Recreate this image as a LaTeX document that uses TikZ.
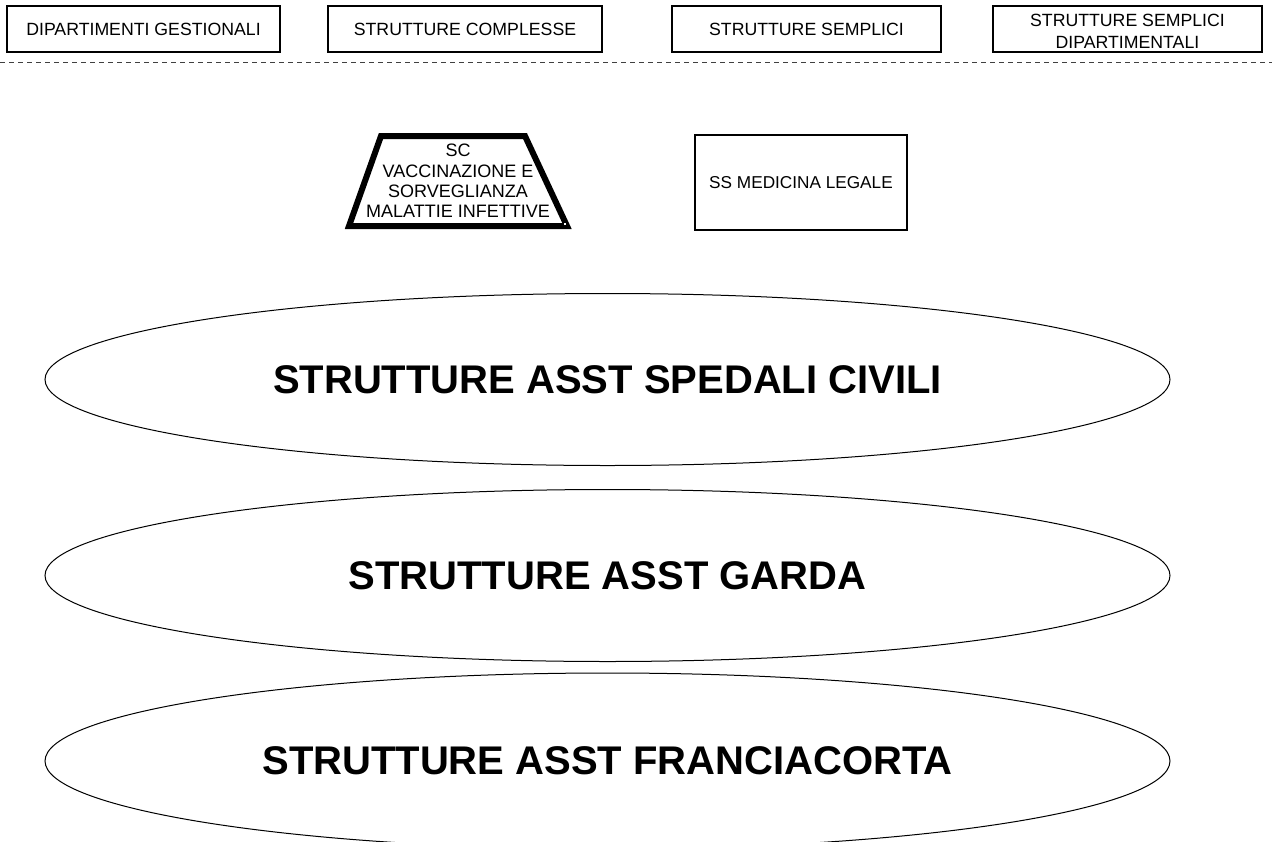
\documentclass[tikz,border=0pt]{standalone}
\usepackage{fontspec}
\setmainfont{Liberation Sans}
\usetikzlibrary{shapes.geometric}
\begin{document}
\begin{tikzpicture}[x=1pt,y=-1pt,
  topbox/.style={draw, line width=1.8pt, inner sep=0pt, minimum height=46pt, font=\fontsize{17.7}{21}\selectfont},
  smalltxt/.style={font=\fontsize{18}{20.2}\selectfont, inner sep=0pt, align=center},
  ell/.style={draw, fill=white, line width=1pt, ellipse, inner sep=0pt, minimum width=1125pt, minimum height=172pt, font=\fontsize{40}{48}\selectfont\bfseries}]
\useasboundingbox (0,0) rectangle (1272,841);
\clip (0,0) rectangle (1272,841);

% top legend boxes
\node[topbox, minimum width=273pt] (b1) at (143.5,29) {DIPARTIMENTI GESTIONALI};
\node[topbox, minimum width=274pt] (b2) at (465,29) {STRUTTURE COMPLESSE};
\node[topbox, minimum width=269pt] (b3) at (806.5,29) {STRUTTURE SEMPLICI};
\node[topbox, minimum width=269pt] (b4) at (1127.5,29) {};
\node[font=\fontsize{17.7}{21.5}\selectfont, inner sep=0pt, align=center] (t4) at (1127.5,31.5) {STRUTTURE SEMPLICI\\DIPARTIMENTALI};

% dashed separator
\coordinate (dl) at (0,62);
\coordinate (dr) at (1272,62);
\draw[dash pattern=on 5pt off 4pt, line width=0.8pt, black!75] (dl) -- (dr);

% trapezoid
\draw[line width=6pt, miter limit=10] (381,136) -- (525,136) -- (567,226) -- (349,226) -- cycle;
\fill[white] (564,223) rectangle (566,225);
\node[smalltxt] (sc) at (458,181) {SC\\VACCINAZIONE E\\SORVEGLIANZA\\MALATTIE INFETTIVE};

% SS box
\node[draw, line width=1.5pt, minimum width=212pt, minimum height=95pt, inner sep=0pt, font=\fontsize{17.2}{20}\selectfont] (ss) at (801,182.5) {SS MEDICINA LEGALE};

% ellipses
\node[ell] (e1) at (607.5,379.5) {STRUTTURE ASST SPEDALI CIVILI};
\node[ell] (e2) at (607.5,575.5) {STRUTTURE ASST GARDA};
\node[ell, minimum height=176pt] (e3) at (607.5,761) {STRUTTURE ASST FRANCIACORTA};
\end{tikzpicture}
\end{document}
